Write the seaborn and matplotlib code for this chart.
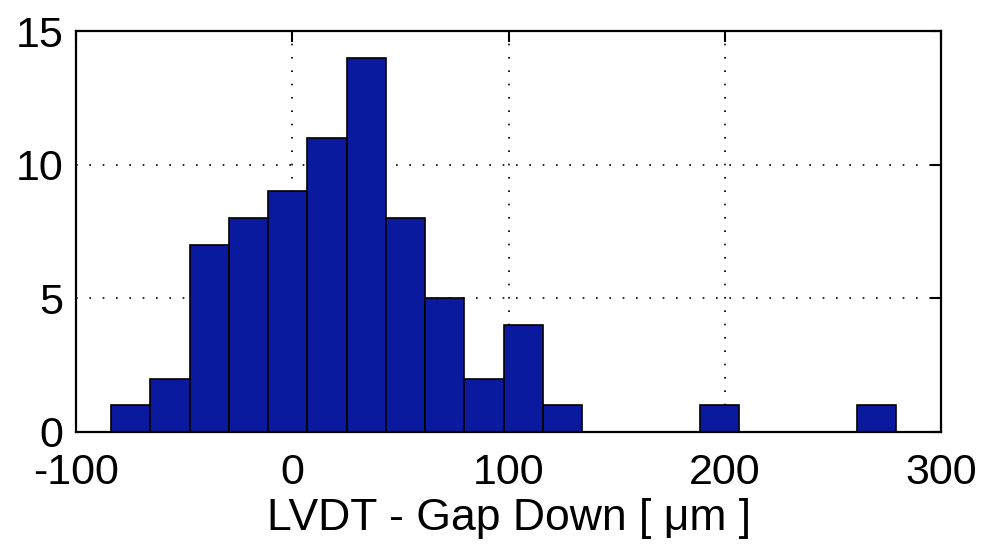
import numpy as np
import pandas as pd
import matplotlib
matplotlib.use("Agg")
import matplotlib.pyplot as plt
import seaborn as sns

# histogram (20 bins)
binLow = -83.8
binHigh = 279.2
counts = [1, 2, 7, 8, 9, 11, 14, 8, 5, 2, 4, 1, 0, 0, 0, 1, 0, 0, 0, 1]
xTicks = [-100, 0, 100, 200, 300]
yTicks = [0, 5, 10, 15]

df = pd.DataFrame({
    "gap": np.linspace(binLow, binHigh, len(counts) + 1)[:-1] + (binHigh - binLow) / len(counts) / 2,
    "n": counts,
})

sns.set_style("white")
plt.rcParams["font.family"] = ["Liberation Sans", "DejaVu Sans"]
plt.rcParams["text.color"] = "black"
plt.rcParams["xtick.color"] = "black"
plt.rcParams["ytick.color"] = "black"
plt.rcParams["axes.labelcolor"] = "black"

fig = plt.figure(figsize=(9.85, 5.48), dpi=100)
ax = fig.add_axes([0.0772, 0.2117, 0.8781, 0.7317])

sns.histplot(
    data=df, x="gap", weights="n", bins=len(counts), binrange=(binLow, binHigh),
    ax=ax, color="#0A1A9E", alpha=1, edgecolor="black", linewidth=1.2,
)

ax.set_xlim(-100, 300)
ax.set_ylim(0, 15)
ax.set_xticks(xTicks)
ax.set_yticks(yTicks)
ax.set_xticklabels([str(t) for t in xTicks])
ax.set_yticklabels([str(t) for t in yTicks])

ax.grid(True, linestyle=(0, (1, 7)), color="black", linewidth=1.2, alpha=1)
ax.set_axisbelow(True)
ax.tick_params(direction="in", length=8, width=1.5, top=True, right=True,
               labelsize=31)
ax.tick_params(axis="x", pad=15)
ax.tick_params(axis="y", pad=9)
for s in ax.spines.values():
    s.set_visible(True)
    s.set_color("black")
    s.set_linewidth(1.6)

ax.set_ylabel("")
ax.set_xlabel("LVDT - Gap Down [ μm ]", fontsize=32, labelpad=4)

fig.savefig("out.png", dpi=100)
